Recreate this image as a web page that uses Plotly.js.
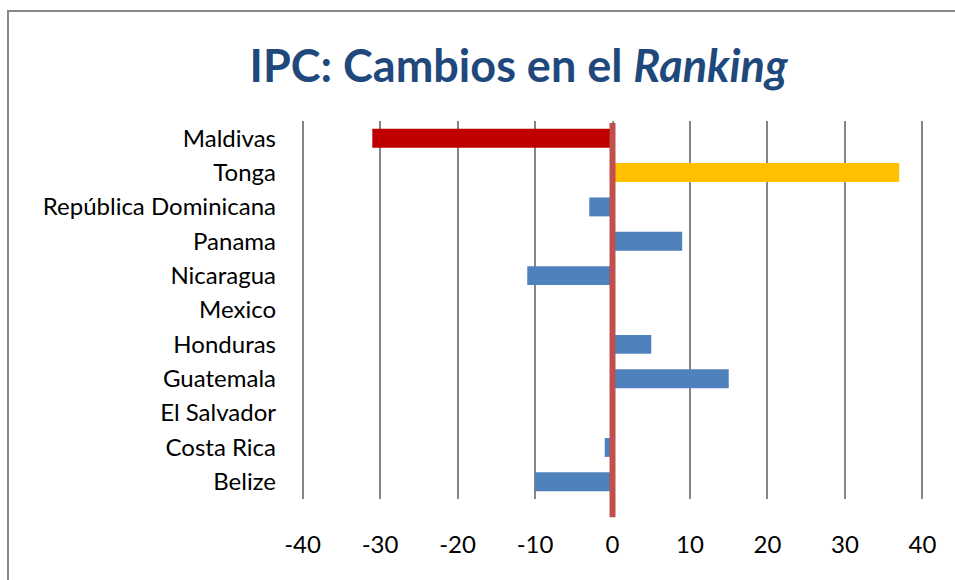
<!DOCTYPE html>
<html>
<head>
<meta charset="utf-8">
<script src="https://cdn.plot.ly/plotly-3.0.1.min.js"></script>
<style>
  html, body { margin: 0; padding: 0; background: #fff; }
  #chart { width: 955px; height: 580px; position: absolute; left: 0; top: 0; }
  #frame { position: absolute; left: 7px; top: 10px; width: 1000px; height: 1000px;
           border: 2px solid #888888; pointer-events: none; box-sizing: border-box; }
</style>
</head>
<body>
<div id="chart"></div>
<div id="frame"></div>
<script>
const countries = ["Maldivas", "Tonga", "República Dominicana", "Panama", "Nicaragua",
                   "Mexico", "Honduras", "Guatemala", "El Salvador", "Costa Rica", "Belize"];
const rankChange = [-31, 37, -3, 9, -11, 0, 5, 15, 0, -1, -10];
const barColors = ["#C00000", "#FFC000", "#4F81BD", "#4F81BD", "#4F81BD",
                   "#4F81BD", "#4F81BD", "#4F81BD", "#4F81BD", "#4F81BD", "#4F81BD"];
const xTicks = [-40, -30, -20, -10, 0, 10, 20, 30, 40];

const FONT = "Lato, 'Open Sans', sans-serif";

const trace = {
  type: "bar",
  orientation: "h",
  y: countries,
  x: rankChange,
  marker: { color: barColors, line: { width: 0 } },
  hoverinfo: "y+x"
};

const layout = {
  width: 955,
  height: 580,
  paper_bgcolor: "#ffffff",
  plot_bgcolor: "#ffffff",
  margin: { l: 301, r: 31, t: 121, b: 81 },
  showlegend: false,
  bargap: 0.45,
  title: {
    text: "<b>IPC: Cambios en el <i>Ranking</i></b>",
    font: { family: FONT, size: 45, color: "#1F497D" },
    x: 0.543, xanchor: "center",
    y: 0.886, yanchor: "middle", yref: "container"
  },
  xaxis: {
    range: [-40.2, 40.2],
    tickvals: xTicks,
    ticktext: xTicks.map(String),
    showgrid: true,
    gridcolor: "#868686",
    gridwidth: 2,
    zeroline: false,
    showline: false,
    ticks: "",
    ticklabelstandoff: 29,
    tickfont: { family: FONT, size: 24, color: "#000000" },
    fixedrange: true
  },
  yaxis: {
    type: "category",
    autorange: "reversed",
    showgrid: false,
    zeroline: false,
    showline: false,
    ticks: "",
    ticklabelstandoff: 24,
    tickfont: { family: FONT, size: 24, color: "#000000" },
    fixedrange: true
  },
  shapes: [{
    type: "line",
    xref: "x", yref: "paper",
    x0: 0, x1: 0, y0: -0.048, y1: 0.995,
    line: { color: "#C0504D", width: 6 },
    layer: "above"
  }]
};

Plotly.newPlot("chart", [trace], layout, { displayModeBar: false, staticPlot: true });
</script>
</body>
</html>
